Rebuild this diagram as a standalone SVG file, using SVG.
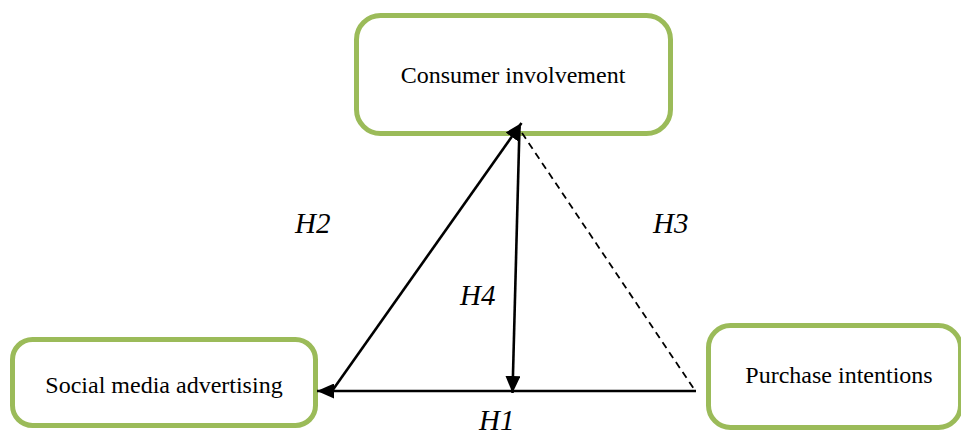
<svg xmlns="http://www.w3.org/2000/svg" width="961" height="436" viewBox="0 0 961 436">
<style>
.box{fill:#fff;stroke:#9BBB59;stroke-width:5}
.lbl{font-family:"Liberation Serif","Times New Roman",serif;font-size:24px;fill:#000;text-anchor:middle}
.h{font-family:"Liberation Serif","Times New Roman",serif;font-size:29px;font-style:italic;fill:#000}
.ln{stroke:#000;stroke-width:2.6;fill:none}
.dash{stroke-dasharray:7 5;stroke-width:1.8}
</style>
<defs>
<marker id="arr" viewBox="0 0 17 15" refX="17" refY="7.5" markerWidth="17" markerHeight="15" markerUnits="userSpaceOnUse" orient="auto">
<path d="M0,0 L17,7.5 L0,15 Z" fill="#000"/>
</marker>
</defs>
<rect width="961" height="436" fill="#fff"/>
<g id="consumer-involvement">
<rect class="box" x="356.5" y="15.5" width="314" height="118" rx="24"/>
<text class="lbl" x="513" y="83">Consumer involvement</text>
</g>
<g id="social-media-advertising">
<rect class="box" x="12.5" y="339.5" width="303" height="86" rx="20"/>
<text class="lbl" x="164" y="393">Social media advertising</text>
</g>
<g id="purchase-intentions">
<rect class="box" x="708.5" y="325.5" width="252" height="102" rx="22"/>
<text class="lbl" x="839" y="383">Purchase intentions</text>
</g>
<g id="connectors">
<line class="ln" x1="696" y1="391" x2="317" y2="391" marker-end="url(#arr)"/>
<line class="ln" x1="332" y1="391" x2="521.5" y2="123" marker-end="url(#arr)"/>
<line class="ln" x1="519.5" y1="127" x2="512.5" y2="393" marker-end="url(#arr)"/>
<line class="ln dash" x1="522" y1="133" x2="696" y2="392"/>
</g>
<g id="labels">
<text class="h" x="295" y="233">H2</text>
<text class="h" x="653" y="233">H3</text>
<text class="h" x="460" y="305">H4</text>
<text class="h" x="479" y="430">H1</text>
</g>
</svg>
